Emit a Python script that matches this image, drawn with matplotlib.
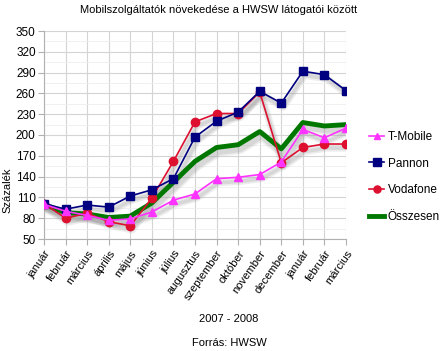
import matplotlib
matplotlib.use("Agg")
import matplotlib.pyplot as plt
import matplotlib.transforms as mtransforms

plt.rcParams['font.family'] = ['Liberation Sans', 'DejaVu Sans']

months = ["január", "február", "március", "április", "május", "június", "július",
          "augusztus", "szeptember", "október", "november", "december",
          "január", "február", "március"]

tmobile = [100, 90, 84, 77, 79, 89, 106, 115, 137, 139, 143, 161, 208, 196, 210]
pannon = [101, 93, 99, 96, 112, 121, 137, 197, 220, 233, 263, 246, 292, 287, 264]
vodafone = [101, 80, 87, 75, 69, 109, 162, 219, 231, 231, 262, 160, 182, 187, 187]
osszesen = [100, 88, 86, 81, 83, 102, 132, 162, 182, 186, 205, 180, 218, 213, 215]

yticks = [50, 80, 110, 140, 170, 200, 230, 260, 290, 320, 350]

series = [
    ("T-Mobile", tmobile, "#ff33ff", "^", 1.2, 5.5),
    ("Pannon", pannon, "#000080", "s", 1.2, 6),
    ("Vodafone", vodafone, "#dd1030", "o", 1.2, 6),
    ("Összesen", osszesen, "#007800", None, 3.5, 0),
]

fig = plt.figure(figsize=(4.4, 3.51), dpi=100)
ax = fig.add_axes([44/440, 1-239/351, (346-44)/440, (239-31)/351])

x = list(range(len(months)))

shadow = mtransforms.offset_copy(ax.transData, fig=fig, x=2, y=-4, units='dots')
for name, vals, col, mk, lw, ms in series:
    ax.plot(x, vals, color='#9a9a9a', lw=lw + 4, alpha=0.18, transform=shadow,
            solid_capstyle='round', solid_joinstyle='round', zorder=1)
    ax.plot(x, vals, color='#9a9a9a', lw=lw + 1.5, alpha=0.25, transform=shadow,
            solid_joinstyle='round', zorder=1)

handles = {}
zorders = {"Összesen": 3, "Vodafone": 4, "Pannon": 5, "T-Mobile": 6}
for name, vals, col, mk, lw, ms in series:
    h, = ax.plot(x, vals, color=col, lw=lw, marker=mk, markersize=ms,
                 markeredgecolor=col, label=name, zorder=zorders[name])
    handles[name] = h

ax.set_xlim(0, 14)
ax.set_ylim(50, 350)
ax.set_yticks(yticks)
ax.set_yticks([v + 15 for v in yticks[:-1]], minor=True)
ax.set_xticks(x)
ax.set_xticklabels(months, rotation=55, ha='right', rotation_mode='anchor', fontsize=8)
ax.tick_params(axis='y', labelsize=8.5, length=4, color='#b0b0b0', pad=2)
ax.tick_params(axis='x', length=4, color='#b0b0b0', pad=3)
ax.tick_params(axis='y', which='minor', length=0)
ax.grid(True, which='major', color='#d4d4d4', lw=0.8)
ax.grid(True, which='minor', axis='y', color='#eeeeee', lw=0.6)
ax.set_axisbelow(True)
for s in ['top', 'right']:
    ax.spines[s].set_visible(False)
for s in ['left', 'bottom']:
    ax.spines[s].set_color('#b0b0b0')
    ax.spines[s].set_linewidth(0.8)

fig.text(219/440, 1-10/351, "Mobilszolgáltatók növekedése a HWSW látogatói között",
         ha='center', va='center', fontsize=8)
fig.text(7/440, 1-190/351, "Százalék", rotation=90, ha='center', va='center', fontsize=8)
fig.text(229/440, 1-319/351, "2007 - 2008", ha='center', va='center', fontsize=8)
fig.text(229/440, 1-343/351, "Forrás: HWSW", ha='center', va='center', fontsize=8)

order = ["T-Mobile", "Pannon", "Vodafone", "Összesen"]
leg = fig.legend([handles[n] for n in order], order, loc='center left',
                 bbox_to_anchor=(369/440, 1-177/351), frameon=False, fontsize=8.5,
                 labelspacing=1.25, handlelength=1.3, handletextpad=0.3, markerscale=0.85,
                 borderaxespad=0, borderpad=0)

fig.savefig("out.png", dpi=100)
